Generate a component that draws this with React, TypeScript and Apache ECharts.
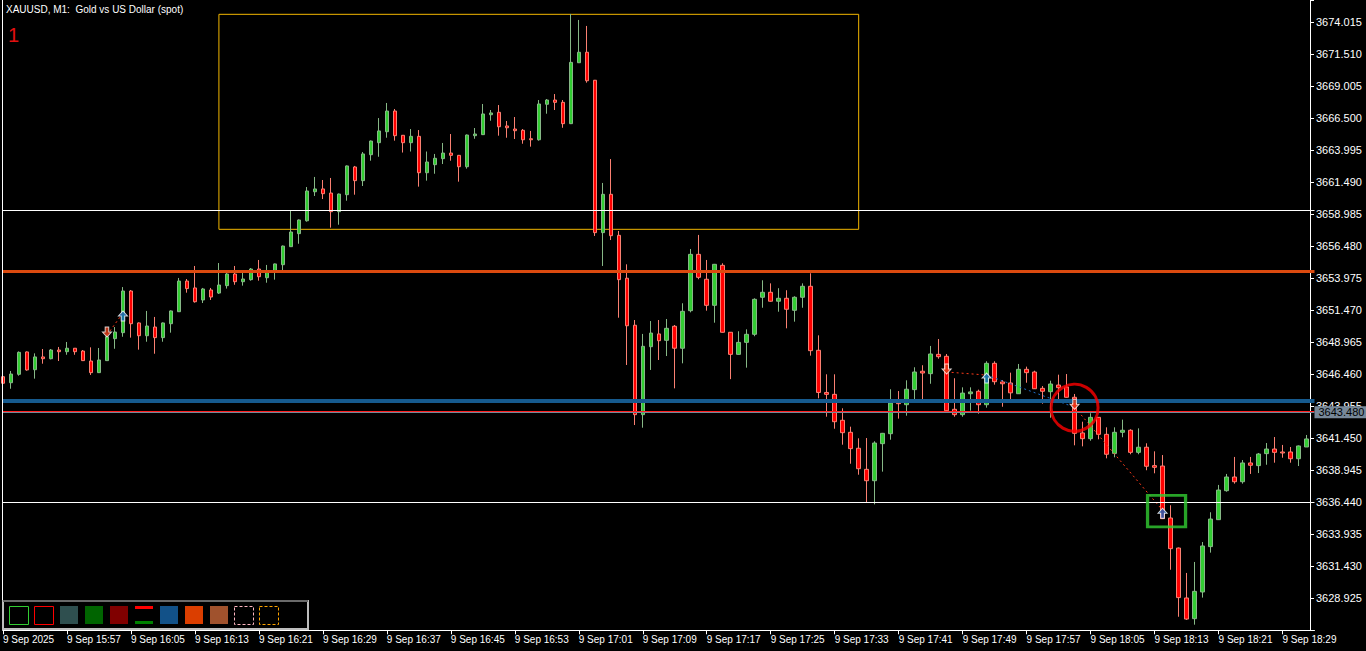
import React, { useEffect, useRef } from "react";
import * as echarts from "echarts";

// ---------- categories (M1 bars from 15:49, plus one empty slot at the right edge) ----------
const firstMinute = 15 * 60 + 49;
const slotCount = 165;
const times: string[] = [];
for (let i = 0; i < slotCount; i++) {
  const m = firstMinute + i;
  times.push(`${Math.floor(m / 60)}:${String(m % 60).padStart(2, "0")}`);
}
const dateLabel = "9 Sep 2025";
const dayPrefix = "9 Sep ";

// ---------- OHLC rows: [open, high, low, close] ----------
const bars: number[][] = [
  [3646.27, 3646.48, 3645.54, 3645.76],
  [3645.80, 3646.72, 3645.33, 3646.48],
  [3646.46, 3648.25, 3646.35, 3648.18],
  [3648.21, 3648.25, 3646.74, 3646.80],
  [3646.82, 3648.10, 3646.12, 3647.82],
  [3647.82, 3648.44, 3647.29, 3647.68],
  [3647.68, 3648.44, 3647.63, 3648.36],
  [3648.36, 3648.60, 3647.50, 3648.23],
  [3648.23, 3648.99, 3647.99, 3648.50],
  [3648.50, 3648.52, 3647.99, 3648.23],
  [3648.28, 3648.36, 3647.50, 3647.53],
  [3647.50, 3648.57, 3646.41, 3646.59],
  [3646.59, 3648.52, 3646.56, 3647.58],
  [3647.53, 3649.56, 3647.50, 3649.40],
  [3649.25, 3650.16, 3648.46, 3649.77],
  [3649.72, 3653.29, 3649.40, 3652.98],
  [3652.98, 3653.06, 3649.33, 3650.42],
  [3650.48, 3650.52, 3648.39, 3649.48],
  [3649.48, 3651.42, 3649.01, 3650.24],
  [3650.16, 3650.95, 3648.07, 3649.33],
  [3649.33, 3650.52, 3649.01, 3650.48],
  [3650.42, 3651.46, 3649.72, 3651.42],
  [3651.36, 3654.00, 3651.34, 3653.76],
  [3653.76, 3653.92, 3652.85, 3653.17],
  [3653.22, 3654.94, 3652.07, 3652.14],
  [3652.28, 3653.22, 3652.04, 3653.14],
  [3653.06, 3653.22, 3652.28, 3652.51],
  [3652.82, 3655.17, 3652.75, 3653.45],
  [3653.40, 3654.47, 3653.17, 3654.31],
  [3654.31, 3654.94, 3653.47, 3653.71],
  [3653.71, 3654.47, 3653.40, 3653.92],
  [3653.87, 3654.78, 3653.79, 3654.70],
  [3654.70, 3655.41, 3653.79, 3654.10],
  [3654.02, 3655.02, 3653.63, 3654.55],
  [3654.49, 3655.13, 3653.87, 3655.10],
  [3655.04, 3656.54, 3654.57, 3656.50],
  [3656.45, 3659.32, 3656.43, 3657.60],
  [3657.47, 3658.58, 3656.68, 3658.54],
  [3658.48, 3661.12, 3658.41, 3660.81],
  [3660.75, 3661.91, 3660.42, 3660.97],
  [3660.97, 3661.67, 3660.18, 3660.60],
  [3660.65, 3661.83, 3657.94, 3659.19],
  [3659.19, 3660.61, 3658.17, 3660.57],
  [3660.52, 3662.81, 3660.05, 3662.77],
  [3662.69, 3662.77, 3660.52, 3661.62],
  [3661.62, 3663.86, 3661.20, 3663.71],
  [3663.65, 3664.76, 3663.18, 3664.72],
  [3664.59, 3666.52, 3663.49, 3665.51],
  [3665.45, 3667.70, 3664.98, 3667.07],
  [3667.07, 3667.23, 3664.75, 3665.14],
  [3665.17, 3665.19, 3663.82, 3664.59],
  [3664.59, 3665.66, 3663.90, 3665.09],
  [3665.09, 3665.58, 3661.15, 3662.24],
  [3662.24, 3663.90, 3661.62, 3663.08],
  [3662.87, 3663.71, 3662.16, 3663.37],
  [3663.34, 3664.57, 3662.92, 3663.78],
  [3663.78, 3665.27, 3663.18, 3663.60],
  [3663.60, 3663.63, 3661.54, 3662.71],
  [3662.71, 3665.23, 3662.56, 3665.19],
  [3665.14, 3665.74, 3664.90, 3665.27],
  [3665.22, 3667.62, 3665.19, 3666.84],
  [3666.78, 3667.15, 3666.31, 3666.92],
  [3666.97, 3667.54, 3665.14, 3665.84],
  [3665.90, 3666.29, 3664.98, 3665.76],
  [3665.66, 3666.60, 3664.88, 3665.53],
  [3665.56, 3665.66, 3664.51, 3664.82],
  [3664.90, 3665.51, 3664.28, 3664.82],
  [3664.82, 3667.93, 3664.75, 3667.62],
  [3667.60, 3668.01, 3666.86, 3667.93],
  [3667.93, 3668.40, 3667.15, 3667.75],
  [3667.75, 3667.93, 3665.76, 3666.08],
  [3666.08, 3674.67, 3666.05, 3670.88],
  [3670.85, 3674.20, 3670.83, 3671.67],
  [3671.67, 3673.73, 3669.29, 3669.44],
  [3669.48, 3669.50, 3657.29, 3657.55],
  [3657.55, 3661.44, 3654.94, 3660.55],
  [3660.55, 3663.31, 3656.97, 3657.31],
  [3657.34, 3657.68, 3650.89, 3653.87],
  [3653.98, 3655.07, 3647.19, 3650.26],
  [3650.30, 3650.71, 3642.49, 3643.30],
  [3643.30, 3649.62, 3642.28, 3648.65],
  [3648.62, 3650.63, 3646.80, 3649.69],
  [3649.62, 3650.71, 3647.58, 3649.09],
  [3649.12, 3650.79, 3647.89, 3650.06],
  [3650.22, 3650.32, 3645.36, 3648.50],
  [3648.50, 3652.02, 3647.32, 3651.39],
  [3651.44, 3656.27, 3651.31, 3655.85],
  [3655.85, 3657.37, 3653.90, 3654.05],
  [3653.90, 3655.41, 3651.44, 3651.86],
  [3651.86, 3655.10, 3650.50, 3655.07],
  [3654.99, 3655.15, 3649.72, 3649.75],
  [3649.75, 3649.77, 3646.08, 3648.02],
  [3648.02, 3649.83, 3647.99, 3648.96],
  [3648.96, 3649.98, 3646.98, 3649.59],
  [3649.59, 3652.41, 3649.44, 3652.33],
  [3652.49, 3653.82, 3651.67, 3652.88],
  [3652.88, 3653.58, 3652.14, 3652.18],
  [3652.18, 3653.20, 3651.36, 3652.41],
  [3652.41, 3653.04, 3650.06, 3651.55],
  [3651.47, 3652.57, 3650.58, 3652.49],
  [3652.49, 3653.58, 3651.67, 3653.35],
  [3653.35, 3654.37, 3647.92, 3648.31],
  [3648.34, 3649.51, 3644.58, 3645.04],
  [3645.04, 3646.46, 3643.14, 3644.89],
  [3644.89, 3646.46, 3642.20, 3642.75],
  [3642.86, 3643.80, 3640.95, 3641.89],
  [3641.92, 3642.36, 3639.46, 3640.64],
  [3640.67, 3641.45, 3638.60, 3639.07],
  [3639.02, 3641.47, 3636.44, 3638.13],
  [3638.13, 3641.22, 3636.28, 3641.08],
  [3641.03, 3641.87, 3638.84, 3641.84],
  [3641.81, 3645.29, 3641.34, 3644.21],
  [3644.29, 3645.15, 3642.99, 3644.16],
  [3644.08, 3645.99, 3643.22, 3645.29],
  [3645.26, 3647.01, 3644.45, 3646.64],
  [3646.70, 3647.17, 3644.45, 3646.56],
  [3646.51, 3648.68, 3645.72, 3648.05],
  [3648.02, 3649.22, 3647.68, 3647.84],
  [3647.87, 3648.05, 3643.59, 3643.61],
  [3643.72, 3646.15, 3643.14, 3643.30],
  [3643.30, 3645.44, 3643.14, 3644.99],
  [3644.94, 3645.44, 3643.61, 3645.08],
  [3645.13, 3645.26, 3643.38, 3644.08],
  [3644.08, 3647.48, 3643.85, 3647.32],
  [3647.32, 3647.48, 3645.65, 3645.88],
  [3645.86, 3646.01, 3643.92, 3645.72],
  [3645.78, 3646.59, 3644.39, 3645.01],
  [3644.94, 3647.27, 3644.92, 3646.85],
  [3646.85, 3647.06, 3645.80, 3646.59],
  [3646.64, 3646.74, 3645.31, 3645.33],
  [3645.36, 3645.54, 3644.16, 3645.13],
  [3645.10, 3645.96, 3643.06, 3645.70],
  [3645.62, 3646.43, 3644.45, 3645.41],
  [3645.47, 3646.48, 3644.63, 3644.66],
  [3644.66, 3644.92, 3640.90, 3641.84],
  [3641.87, 3642.75, 3640.82, 3641.42],
  [3641.42, 3643.41, 3641.26, 3643.09],
  [3643.09, 3643.12, 3641.37, 3641.76],
  [3641.76, 3642.31, 3639.88, 3640.20],
  [3640.27, 3642.31, 3639.96, 3641.92],
  [3641.92, 3642.91, 3641.53, 3642.08],
  [3642.08, 3642.16, 3640.20, 3640.35],
  [3640.35, 3642.23, 3640.20, 3640.75],
  [3640.75, 3641.06, 3638.95, 3639.26],
  [3639.31, 3640.43, 3638.71, 3639.18],
  [3639.28, 3640.14, 3635.13, 3635.16],
  [3635.21, 3636.21, 3631.16, 3632.81],
  [3632.86, 3632.90, 3627.48, 3628.98],
  [3628.95, 3630.91, 3627.23, 3627.30],
  [3627.33, 3631.77, 3626.86, 3629.47],
  [3629.42, 3633.33, 3628.98, 3633.02],
  [3632.97, 3635.66, 3632.50, 3635.13],
  [3635.08, 3637.80, 3635.06, 3637.40],
  [3637.35, 3638.66, 3637.27, 3638.42],
  [3638.42, 3639.99, 3637.90, 3638.05],
  [3638.05, 3639.75, 3637.90, 3639.52],
  [3639.52, 3639.99, 3638.66, 3639.34],
  [3639.31, 3640.30, 3638.73, 3640.22],
  [3640.25, 3641.08, 3639.38, 3640.61],
  [3640.61, 3641.55, 3639.54, 3640.35],
  [3640.38, 3640.93, 3639.93, 3640.30],
  [3640.38, 3640.77, 3639.54, 3639.85],
  [3639.85, 3640.89, 3639.28, 3640.85],
  [3640.77, 3641.71, 3640.77, 3641.40],
];

// ---------- price axis tick labels ----------
const yTickLabels = [
  "3628.925", "3631.430", "3633.935", "3636.440", "3638.945", "3641.450", "3643.955",
  "3646.460", "3648.965", "3651.470", "3653.975", "3656.480", "3658.985", "3661.490",
  "3663.995", "3666.500", "3669.005", "3671.510", "3674.015",
];
const yMin = 3626.42;
const yMax = 3675.761;
const yStep = 2.505;

// ---------- horizontal levels ----------
const whiteLevels = [3659.28, 3636.44];
const orangeLevel = 3654.52;
const blueLevel = 3644.39;
const askPrice = 3643.6;
const bidPrice = 3643.48;

// ---------- drawn objects ----------
const boxStartBar = 27;
const boxEndBar = 107;
const boxTop = 3674.64;
const boxBottom = 3657.81;
const circleBar = 134;
const circlePrice = 3643.84;
const squareBar = 145;
const squarePrice = 3635.745;

// ---------- trades: [openBar, openPrice, closeBar, closePrice] ----------
const sellTrades = [
  [13, 3649.53, 15, 3651.26],
  [118, 3646.64, 123, 3646.4],
  [134, 3643.88, 145, 3635.82],
];
const buyTrades = [[123, 3646.4, 134, 3643.88]];
const sellDeals = [[13, 3649.53], [118, 3646.64], [134, 3643.88]];
const buyDeals = [[15, 3651.26], [123, 3646.4], [145, 3635.82]];

// ---------- toolbar swatches ----------
const toolbarFills = ["#2F4F4F", "#006400", "#800000"];
const toolbarFills2 = ["#125188", "#DB3E00", "#A0522D"];

const FONT = "Liberation Sans, Arial, sans-serif";

const sellPath = "path://M3,0L7,0L7,5L10,5L5,10L0,5L3,5Z";
const buyPath = "path://M5,0L10,5L7,5L7,10L3,10L3,5L0,5Z";

function buildOption(): any {
  const candleData = bars.map((b) => [b[0], b[3], b[2], b[1]]);

  const tradeLines: any[] = [];
  sellTrades.forEach((t) =>
    tradeLines.push({
      type: "line",
      data: [[times[t[0]], t[1]], [times[t[2]], t[3]]],
      symbol: "none",
      silent: true,
      z: 4,
      lineStyle: { color: "#FF3B1A", width: 1, type: [2, 3] },
    })
  );
  buyTrades.forEach((t) =>
    tradeLines.push({
      type: "line",
      data: [[times[t[0]], t[1]], [times[t[2]], t[3]]],
      symbol: "none",
      silent: true,
      z: 4,
      lineStyle: { color: "#1E6EC8", width: 1, type: [2, 3] },
    })
  );

  const levelLine = (v: number, color: string, width: number) => ({
    yAxis: v,
    lineStyle: { color, width, type: "solid" },
    label: { show: false },
  });

  const graphics: any[] = [
    { type: "line", shape: { x1: 2.5, y1: 0, x2: 2.5, y2: 630.5 }, style: { stroke: "#FFFFFF", lineWidth: 1 }, z: 10 },
    {
      type: "text", x: 6, y: 9.5, z: 10,
      style: { text: "XAUUSD, M1:  Gold vs US Dollar (spot)", fill: "#FFFFFF", font: `10px ${FONT}`, verticalAlign: "middle" },
    },
    {
      type: "text", x: 8, y: 35, z: 10,
      style: { text: "1", fill: "#E01010", font: `20px ${FONT}`, verticalAlign: "middle" },
    },
    // toolbar
    { type: "rect", shape: { x: 3, y: 601, width: 305, height: 28 }, style: { fill: "#000000", stroke: "#BDBDBD", lineWidth: 2 }, z: 20 },
    { type: "line", shape: { x1: 3, y1: 601, x2: 308, y2: 601 }, style: { stroke: "#6A6A6A", lineWidth: 2 }, z: 21 },
    { type: "rect", shape: { x: 9.5, y: 606.5, width: 19, height: 18 }, style: { fill: "none", stroke: "#32CD32", lineWidth: 1 }, z: 21 },
    { type: "rect", shape: { x: 34.5, y: 606.5, width: 19, height: 18 }, style: { fill: "none", stroke: "#FF0000", lineWidth: 1 }, z: 21 },
    ...toolbarFills.map((c, k) => ({ type: "rect", shape: { x: 60 + 25 * k, y: 606, width: 18, height: 18 }, style: { fill: c }, z: 21 })),
    { type: "rect", shape: { x: 135, y: 606, width: 18, height: 3 }, style: { fill: "#FF0000" }, z: 21 },
    { type: "rect", shape: { x: 135, y: 621, width: 18, height: 3 }, style: { fill: "#008000" }, z: 21 },
    ...toolbarFills2.map((c, k) => ({ type: "rect", shape: { x: 160 + 25 * k, y: 606, width: 18, height: 18 }, style: { fill: c }, z: 21 })),
    { type: "rect", shape: { x: 234.5, y: 606.5, width: 19, height: 18 }, style: { fill: "none", stroke: "#FFB6C1", lineWidth: 1, lineDash: [3, 2] }, z: 21 },
    { type: "rect", shape: { x: 259.5, y: 606.5, width: 19, height: 18 }, style: { fill: "none", stroke: "#FFA500", lineWidth: 1, lineDash: [3, 2] }, z: 21 },
  ];

  return {
    animation: false,
    backgroundColor: "#000000",
    textStyle: { fontFamily: FONT },
    grid: { left: 2.5, right: 51.5, top: 0, bottom: 20.7, containLabel: false },
    xAxis: {
      type: "category",
      data: times,
      boundaryGap: false,
      axisLine: { lineStyle: { color: "#FFFFFF", width: 1 } },
      axisTick: { show: true, interval: 7, length: 4, lineStyle: { color: "#FFFFFF" } },
      axisLabel: {
        interval: 7,
        align: "left",
        color: "#FFFFFF",
        fontSize: 10,
        margin: 4,
        fontFamily: FONT,
        formatter: (v: string, idx: number) => (idx === 0 ? dateLabel : dayPrefix + v),
      },
      splitLine: { show: false },
    },
    yAxis: {
      type: "value",
      position: "right",
      offset: -4.5,
      min: yMin,
      max: yMax,
      interval: yStep,
      scale: true,
      axisLine: { show: true, lineStyle: { color: "#FFFFFF", width: 1 } },
      axisTick: { show: true, length: 4, lineStyle: { color: "#FFFFFF" } },
      axisLabel: {
        color: "#FFFFFF",
        fontSize: 11,
        margin: 6,
        fontFamily: FONT,
        showMinLabel: true,
        showMaxLabel: true,
        formatter: (v: number) => {
          const s = v.toFixed(3);
          return yTickLabels.includes(s) ? s : "";
        },
      },
      splitLine: { show: false },
    },
    series: [
      {
        type: "line",
        name: "levels",
        data: [],
        z: 1,
        silent: true,
        markLine: {
          silent: true,
          symbol: ["none", "none"],
          animation: false,
          data: [
            levelLine(whiteLevels[0], "#FFFFFF", 1),
            levelLine(whiteLevels[1], "#FFFFFF", 1),
            levelLine(orangeLevel, "#DC4A0F", 3),
            levelLine(blueLevel, "#165A8E", 4),
            levelLine(askPrice, "#FF2020", 1),
            {
              yAxis: bidPrice,
              lineStyle: { color: "#778899", width: 1, type: "solid" },
              label: {
                show: true,
                position: "end",
                distance: 0,
                formatter: bidPrice.toFixed(3),
                color: "#000000",
                backgroundColor: "#778899",
                fontSize: 11,
                fontFamily: FONT,
                padding: [1, 4, 0, 4],
              },
            },
          ],
        },
      },
      {
        type: "candlestick",
        name: "XAUUSD",
        data: candleData,
        barWidth: 4,
        z: 2,
        itemStyle: {
          color: "#32CD32",
          color0: "#FF0000",
          borderColor: "#86B886",
          borderColor0: "#FA8072",
          borderWidth: 1,
        },
        markArea: {
          silent: true,
          itemStyle: { color: "rgba(0,0,0,0)", borderColor: "#F2B600", borderWidth: 1 },
          data: [[
            { xAxis: times[boxStartBar], yAxis: boxTop },
            { xAxis: times[boxEndBar], yAxis: boxBottom },
          ]],
        },
      },
      ...tradeLines,
      {
        type: "scatter",
        name: "sells",
        z: 5,
        silent: true,
        symbol: sellPath,
        symbolSize: [9, 10],
        symbolOffset: [0, -3],
        itemStyle: { color: "#E8401C", borderColor: "#FFFFFF", borderWidth: 1 },
        data: sellDeals.map((d) => [times[d[0]], d[1]]),
      },
      {
        type: "scatter",
        name: "buys",
        z: 5,
        silent: true,
        symbol: buyPath,
        symbolSize: [9, 10],
        symbolOffset: [0, 3],
        itemStyle: { color: "#1565C0", borderColor: "#FFFFFF", borderWidth: 1 },
        data: buyDeals.map((d) => [times[d[0]], d[1]]),
      },
      {
        type: "scatter",
        name: "circle",
        z: 6,
        silent: true,
        symbol: "circle",
        symbolSize: 47,
        itemStyle: { color: "rgba(0,0,0,0)", borderColor: "#FF0000", borderWidth: 3 },
        data: [[times[circleBar], circlePrice]],
      },
      {
        type: "scatter",
        name: "square",
        z: 6,
        silent: true,
        symbol: "rect",
        symbolSize: [38, 31.5],
        symbolOffset: [4, 0],
        itemStyle: { color: "rgba(0,0,0,0)", borderColor: "#32CD32", borderWidth: 3 },
        data: [[times[squareBar], squarePrice]],
      },
    ],
    graphic: graphics,
  };
}

export default function App() {
  const ref = useRef<HTMLDivElement>(null);
  useEffect(() => {
    if (!ref.current) return;
    const chart = echarts.init(ref.current, null, { renderer: "svg" });
    chart.setOption(buildOption());
    return () => chart.dispose();
  }, []);
  return (
    <div
      ref={ref}
      style={{ position: "fixed", left: 0, top: 0, width: 1366, height: 651, background: "#000" }}
    />
  );
}
